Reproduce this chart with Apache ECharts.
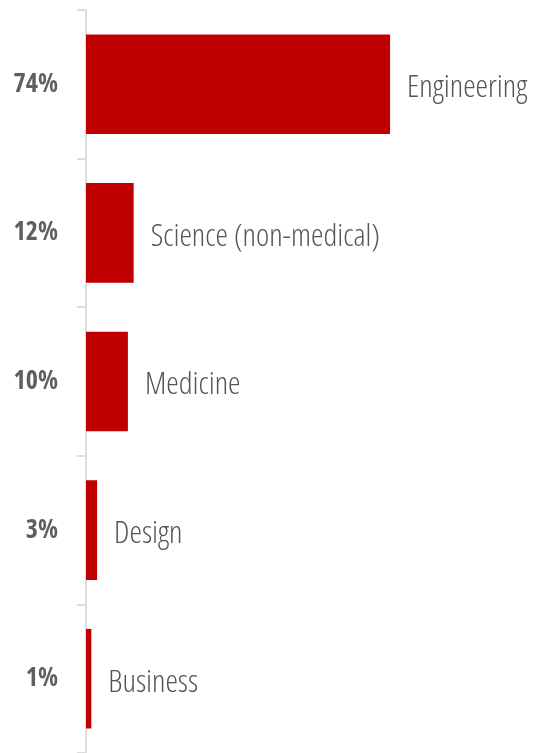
<!DOCTYPE html>
<html>
<head>
<meta charset="utf-8">
<script src="https://cdn.jsdelivr.net/npm/echarts@6/dist/echarts.min.js"></script>
<style>html,body{margin:0;padding:0;background:#fff;}#c{width:538px;height:753px;}</style>
</head>
<body>
<div id="c"></div>
<script>
var categories = ['Engineering', 'Science (non-medical)', 'Medicine', 'Design', 'Business'];
var values = [74, 11.6, 10.2, 2.7, 1.3];
var tickLabels = ['74%', '12%', '10%', '3%', '1%'];

var chart = echarts.init(document.getElementById('c'));
chart.setOption({
  animation: false,
  grid: { left: 86, top: 10, width: 455, height: 745, containLabel: false },
  xAxis: { type: 'value', min: 0, max: 110, show: false },
  yAxis: {
    type: 'category',
    inverse: true,
    data: tickLabels,
    axisLine: { show: true, lineStyle: { color: '#dddddd', width: 2 } },
    axisTick: { show: true, length: 9, lineStyle: { color: '#dddddd', width: 2 } },
    axisLabel: {
      margin: 28,
      color: '#5f5f5f',
      fontFamily: 'Open Sans',
      fontWeight: 'bold condensed',
      fontSize: 26
    }
  },
  series: [{
    type: 'bar',
    data: values,
    barCategoryGap: '33%',
    itemStyle: { color: '#c00000' },
    label: {
      show: true,
      position: 'right',
      distance: 17,
      offset: [0, 4],
      color: '#555555',
      fontFamily: 'Open Sans',
      fontWeight: '300 condensed',
      fontSize: 31.5,
      formatter: function (p) { return categories[p.dataIndex]; }
    }
  }]
});
</script>
</body>
</html>
